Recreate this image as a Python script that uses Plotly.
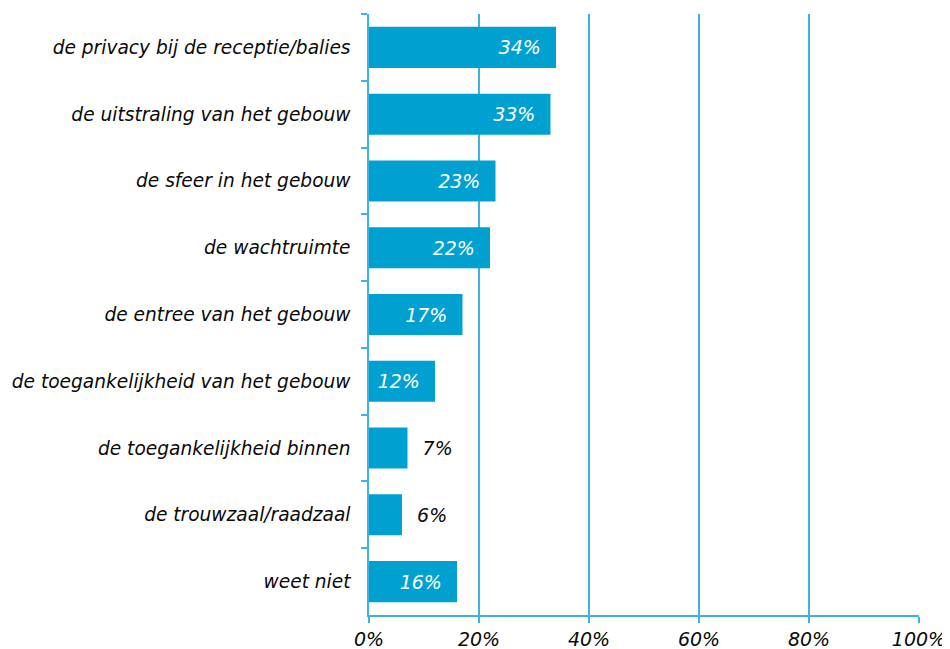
import plotly.graph_objects as go

categories = [
    "de privacy bij de receptie/balies",
    "de uitstraling van het gebouw",
    "de sfeer in het gebouw",
    "de wachtruimte",
    "de entree van het gebouw",
    "de toegankelijkheid van het gebouw",
    "de toegankelijkheid binnen",
    "de trouwzaal/raadzaal",
    "weet niet",
]
values = [34, 33, 23, 22, 17, 12, 7, 6, 16]
x_ticks = [0, 20, 40, 60, 80, 100]
x_tick_labels = ["0%", "20%", "40%", "60%", "80%", "100%"]

BAR = "#00A1D1"
GRID = "#3FB3DF"
FONT = "DejaVu Sans"
TXT = "#0a0a0a"
NB = "\u00a0"

positions = ["outside" if v < 10 else "inside" for v in values]
texts = [
    (f"{NB}{NB}{v}%" if p == "outside" else f"{v}%{NB}{NB}")
    for v, p in zip(values, positions)
]
text_colors = [TXT if p == "outside" else "white" for p in positions]

fig = go.Figure(
    go.Bar(
        y=categories,
        x=values,
        orientation="h",
        marker=dict(color=BAR, line=dict(width=0)),
        text=texts,
        textposition=positions,
        insidetextanchor="end",
        textfont=dict(family=FONT, size=19, color=text_colors, style="italic"),
        cliponaxis=False,
        hoverinfo="skip",
    )
)

# page body has an 8px margin, so the figure is sized to fit the 950x649 window
fig.update_layout(
    width=942,
    height=641,
    margin=dict(l=361, r=31, t=6, b=34, autoexpand=False),
    paper_bgcolor="white",
    plot_bgcolor="white",
    bargap=0.385,
    showlegend=False,
    font=dict(family=FONT, size=18.6, color=TXT, style="italic"),
    uniformtext=dict(minsize=19, mode="show"),
)

fig.update_xaxes(
    range=[0, 100],
    tickvals=x_ticks,
    ticktext=x_tick_labels,
    showgrid=True,
    gridcolor=GRID,
    gridwidth=1.5,
    zeroline=False,
    showline=True,
    linecolor=GRID,
    linewidth=1.5,
    ticks="outside",
    ticklen=6,
    tickwidth=1.5,
    tickcolor=GRID,
    automargin=False,
    tickfont=dict(family=FONT, size=19, color=TXT, style="italic"),
    fixedrange=True,
)

fig.update_yaxes(
    autorange="reversed",
    showline=True,
    linecolor=GRID,
    linewidth=1.5,
    ticks="outside",
    tickson="boundaries",
    ticklen=6,
    tickwidth=1.5,
    tickcolor=GRID,
    showgrid=False,
    automargin=False,
    ticklabelstandoff=13,
    tickfont=dict(family=FONT, size=18.6, color=TXT, style="italic"),
    fixedrange=True,
)

fig.write_html("out.html")
